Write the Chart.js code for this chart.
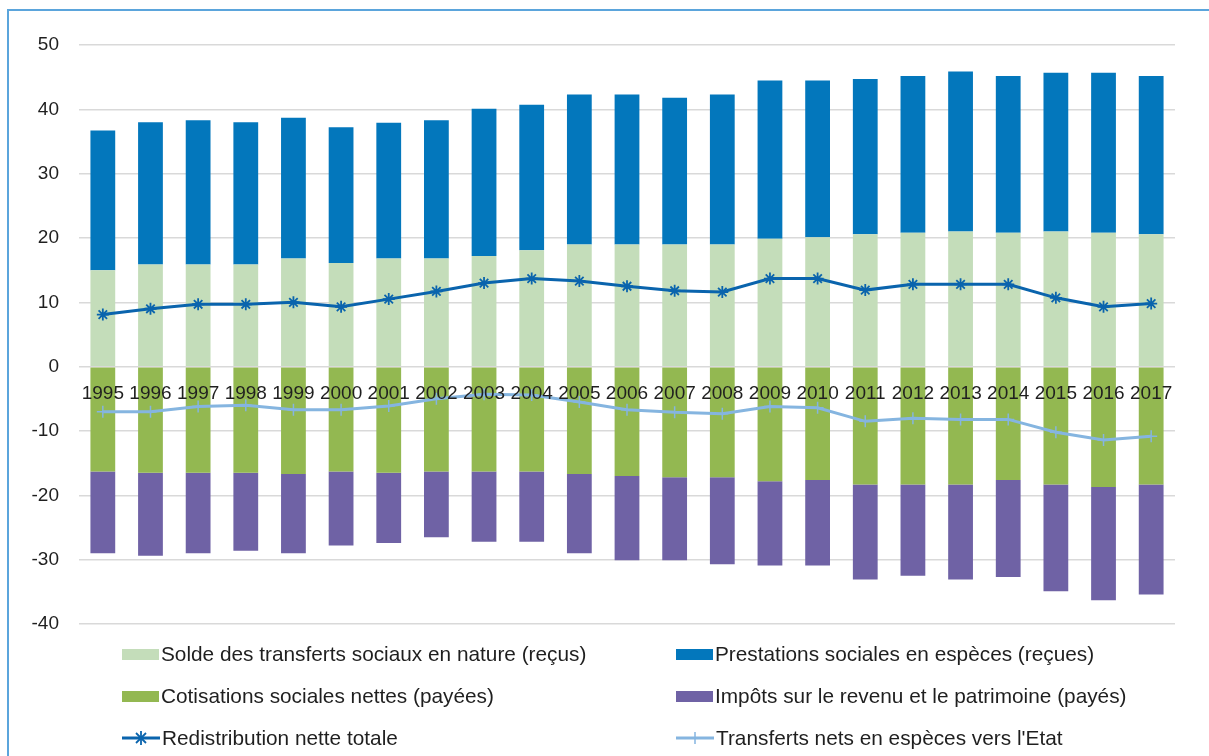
<!DOCTYPE html>
<html>
<head>
<meta charset="utf-8">
<script src="https://cdn.jsdelivr.net/npm/chart.js@4.4.1/dist/chart.umd.min.js"></script>
<style>
  html, body { margin: 0; padding: 0; background: #ffffff; }
  body { width: 1209px; height: 756px; position: relative; overflow: hidden; font-family: "Liberation Sans", Arial, sans-serif; }
  #frame { position: absolute; left: 7px; top: 9px; width: 1220px; height: 800px; border-left: 2px solid #5ba5dc; border-top: 2px solid #5ba5dc; box-sizing: border-box; }
  #c { position: absolute; left: 0; top: 0; }
  #legend { position: absolute; left: 0; top: 0; width: 1209px; height: 756px; pointer-events: none; }
  .item { position: absolute; display: flex; align-items: center; font-size: 20.8px; color: #1f1f1f; white-space: nowrap; }
  .sw { display: inline-block; }
</style>
</head>
<body>
<div id="frame"></div>
<canvas id="c" width="1209" height="756"></canvas>
<div id="legend"></div>
<script>
const years = ["1995","1996","1997","1998","1999","2000","2001","2002","2003","2004","2005","2006","2007","2008","2009","2010","2011","2012","2013","2014","2015","2016","2017"];

const soldeNature = [15.0,15.9,15.9,15.9,16.8,16.1,16.8,16.8,17.2,18.1,19.0,19.0,19.0,19.0,19.9,20.1,20.6,20.8,21.0,20.8,21.0,20.8,20.6];
const prestations = [21.7,22.1,22.4,22.1,21.9,21.1,21.1,21.5,22.9,22.6,23.3,23.3,22.8,23.3,24.6,24.4,24.1,24.4,24.9,24.4,24.7,24.9,24.6];
const cotisations = [-16.3,-16.5,-16.5,-16.5,-16.7,-16.3,-16.5,-16.3,-16.3,-16.3,-16.7,-17.0,-17.2,-17.2,-17.8,-17.6,-18.3,-18.3,-18.3,-17.6,-18.3,-18.7,-18.3];
const impots = [-12.7,-12.9,-12.5,-12.1,-12.3,-11.5,-10.9,-10.2,-10.9,-10.9,-12.3,-13.1,-12.9,-13.5,-13.1,-13.3,-14.8,-14.2,-14.8,-15.1,-16.6,-17.6,-17.1];
const redistribution = [8.1,9.0,9.7,9.7,10.0,9.3,10.5,11.7,13.0,13.7,13.3,12.5,11.8,11.6,13.7,13.7,11.9,12.8,12.8,12.8,10.7,9.3,9.8];
const transferts = [-7.0,-7.0,-6.2,-6.0,-6.7,-6.7,-6.1,-5.0,-4.3,-4.4,-5.5,-6.7,-7.1,-7.3,-6.2,-6.4,-8.5,-8.0,-8.2,-8.2,-10.2,-11.4,-10.8];

const yTicks = [50,40,30,20,10,0,-10,-20,-30,-40];

const labels = {
  solde: "Solde des transferts sociaux en nature (reçus)",
  prest: "Prestations sociales en espèces (reçues)",
  cotis: "Cotisations sociales nettes (payées)",
  impots: "Impôts sur le revenu et le patrimoine (payés)",
  redis: "Redistribution nette totale",
  transf: "Transferts nets en espèces vers l'Etat"
};

const C = {
  solde: "#c4ddba",
  prest: "#0377bc",
  cotis: "#93b851",
  impots: "#6f62a5",
  redis: "#0a64ad",
  transf: "#85b5e0"
};

const tickFont = { family: "'Liberation Sans', Arial, sans-serif", size: 19 };

const chart = new Chart(document.getElementById('c'), {
  data: {
    labels: years,
    datasets: [
      { type: 'bar', label: labels.solde, data: soldeNature, backgroundColor: C.solde, stack: 'bars', order: 1, barPercentage: 1, categoryPercentage: 0.52 },
      { type: 'bar', label: labels.prest, data: prestations, backgroundColor: C.prest, stack: 'bars', order: 1, barPercentage: 1, categoryPercentage: 0.52 },
      { type: 'bar', label: labels.cotis, data: cotisations, backgroundColor: C.cotis, stack: 'bars', order: 1, barPercentage: 1, categoryPercentage: 0.52 },
      { type: 'bar', label: labels.impots, data: impots, backgroundColor: C.impots, stack: 'bars', order: 1, barPercentage: 1, categoryPercentage: 0.52 },
      { type: 'line', label: labels.redis, data: redistribution, borderColor: C.redis, backgroundColor: C.redis, borderWidth: 3, pointStyle: 'star', pointRadius: 6, pointBorderWidth: 1.8, pointBorderColor: C.redis, tension: 0, stack: 'l1', order: 0, fill: false },
      { type: 'line', label: labels.transf, data: transferts, borderColor: C.transf, backgroundColor: C.transf, borderWidth: 3, pointStyle: 'cross', pointRadius: 6, pointBorderWidth: 1.5, pointBorderColor: C.transf, tension: 0, stack: 'l2', order: 0, fill: false }
    ]
  },
  options: {
    responsive: false,
    devicePixelRatio: 1,
    animation: false,
    layout: { padding: { top: 45, right: 34, bottom: 132, left: 0 } },
    plugins: { legend: { display: false }, tooltip: { enabled: false } },
    scales: {
      x: {
        stacked: true,
        position: { y: 0 },
        grid: { display: false, drawTicks: false },
        border: { display: false },
        ticks: { font: tickFont, color: '#1f1f1f', padding: 16, maxRotation: 0, autoSkip: false, z: 1 },
        afterFit: (s) => { s.height = 0; }
      },
      y: {
        stacked: true,
        min: -40,
        max: 50,
        afterBuildTicks: (s) => { s.ticks = yTicks.map(v => ({ value: v })); },
        grid: { color: '#d9d9d9', lineWidth: 1.5, drawTicks: false },
        border: { display: false },
        ticks: { font: tickFont, color: '#1f1f1f', padding: 20 },
        afterFit: (s) => { s.width = 79; }
      }
    }
  }
});

// HTML legend built from the chart's datasets
const legendOrder = [
  [0, 122, 654], [1, 676, 654],
  [2, 122, 696], [3, 676, 696],
  [4, 122, 738], [5, 676, 738]
];
const legendEl = document.getElementById('legend');
legendOrder.forEach(([idx, x, y]) => {
  const ds = chart.data.datasets[idx];
  const item = document.createElement('div');
  item.className = 'item';
  item.style.left = x + 'px';
  item.style.top = (y - 12) + 'px';
  item.style.height = '24px';
  let sw;
  if (ds.type === 'bar') {
    sw = `<span class="sw" style="width:37px;height:11px;background:${ds.backgroundColor};margin-right:2px"></span>`;
  } else {
    let marker = '';
    if (ds.pointStyle === 'star') {
      marker = `<line x1="14" y1="7" x2="24" y2="17" stroke="${ds.borderColor}" stroke-width="1.8"/><line x1="24" y1="7" x2="14" y2="17" stroke="${ds.borderColor}" stroke-width="1.8"/><line x1="19" y1="5" x2="19" y2="19" stroke="${ds.borderColor}" stroke-width="1.8"/>`;
    } else {
      marker = `<line x1="19" y1="6" x2="19" y2="18" stroke="${ds.borderColor}" stroke-width="1.5"/>`;
    }
    sw = `<svg class="sw" width="39" height="24" style="margin-right:1px"><line x1="0" y1="12" x2="38" y2="12" stroke="${ds.borderColor}" stroke-width="3"/>${marker}</svg>`;
  }
  item.innerHTML = sw + `<span>${ds.label}</span>`;
  legendEl.appendChild(item);
});
</script>
</body>
</html>
